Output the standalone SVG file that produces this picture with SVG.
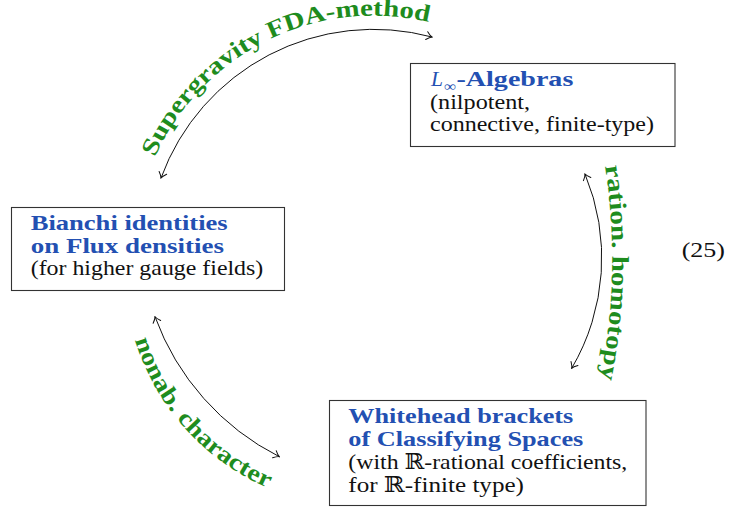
<svg xmlns="http://www.w3.org/2000/svg" width="739" height="508" viewBox="0 0 739 508">
<style>
  text { font-family: 'Liberation Serif', 'DejaVu Serif', serif; font-size: 21.5px; fill: #111; }
  .b { font-weight: bold; fill: #2350b2; }
  .lbl { font-weight: bold; fill: #1e8c1e; font-size: 24px; }
  .box { fill: #fff; stroke: #333; stroke-width: 1.1; }
  .arc { fill: none; stroke: #111; stroke-width: 1; marker-start: url(#tip); marker-end: url(#tip); }
</style>
<defs>
  <marker id="tip" viewBox="-7 -5 8 10" refX="0" refY="0" markerWidth="8" markerHeight="10" markerUnits="userSpaceOnUse" orient="auto-start-reverse">
    <path d="M-5.5,-4 Q-2,-0.6 0,0 Q-2,0.6 -5.5,4" fill="none" stroke="#111" stroke-width="1" stroke-linecap="round"/>
  </marker>
  <path id="pTop" d="M154.8,157.3 A240,240 0 0 1 428.9,22.1"/>
  <path id="pRight" d="M605,166 A609,609 0 0 1 600,380"/>
  <path id="pLeft" d="M135,340 A237,237 0 0 0 268,488"/>
</defs>
<rect width="739" height="508" fill="#fff"/>

<g id="connectors">
  <path class="arc" d="M161,178 A226.3,226.3 0 0 1 432,37"/>
  <path class="arc" d="M585,174 A218,218 0 0 1 571.7,368.3"/>
  <path class="arc" d="M155,316.7 A255,255 0 0 0 279.3,456.7"/>
  <text class="lbl"><textPath href="#pTop" textLength="331" lengthAdjust="spacingAndGlyphs">Supergravity FDA-method</textPath></text>
  <text class="lbl"><textPath href="#pRight" textLength="214" lengthAdjust="spacingAndGlyphs">ration. homotopy</textPath></text>
  <text class="lbl"><textPath href="#pLeft" textLength="205" lengthAdjust="spacingAndGlyphs">nonab. character</textPath></text>
</g>

<g id="node-linf">
  <rect class="box" x="410.5" y="63.5" width="264.5" height="83"/>
  <text x="431" y="86" font-style="italic" style="fill:#2350b2">L</text>
  <text x="444" y="91" style="font-size:14px;fill:#2350b2" textLength="12" lengthAdjust="spacingAndGlyphs">∞</text>
  <text class="b" x="456.5" y="86" textLength="116.8" lengthAdjust="spacingAndGlyphs">-Algebras</text>
  <text x="430" y="108.5" textLength="100" lengthAdjust="spacingAndGlyphs">(nilpotent,</text>
  <text x="430" y="131" textLength="224" lengthAdjust="spacingAndGlyphs">connective, finite-type)</text>
</g>

<g id="node-bianchi">
  <rect class="box" x="11.5" y="207.5" width="273" height="83"/>
  <text class="b" x="30.7" y="230" textLength="197" lengthAdjust="spacingAndGlyphs">Bianchi identities</text>
  <text class="b" x="30.7" y="252.5" textLength="193.3" lengthAdjust="spacingAndGlyphs">on Flux densities</text>
  <text x="30.7" y="274.5" textLength="232.6" lengthAdjust="spacingAndGlyphs">(for higher gauge fields)</text>
</g>

<g id="node-whitehead">
  <rect class="box" x="329.5" y="400.5" width="316.5" height="105"/>
  <text class="b" x="348.3" y="423.3" textLength="225" lengthAdjust="spacingAndGlyphs">Whitehead brackets</text>
  <text class="b" x="348.3" y="446" textLength="235" lengthAdjust="spacingAndGlyphs">of Classifying Spaces</text>
  <text x="348.3" y="468.5" textLength="279" lengthAdjust="spacingAndGlyphs">(with ℝ-rational coefficients,</text>
  <text x="348.3" y="491.5" textLength="175.7" lengthAdjust="spacingAndGlyphs">for ℝ-finite type)</text>
</g>

<text id="eqnum" x="681.7" y="257" textLength="43.3" lengthAdjust="spacingAndGlyphs">(25)</text>
</svg>
